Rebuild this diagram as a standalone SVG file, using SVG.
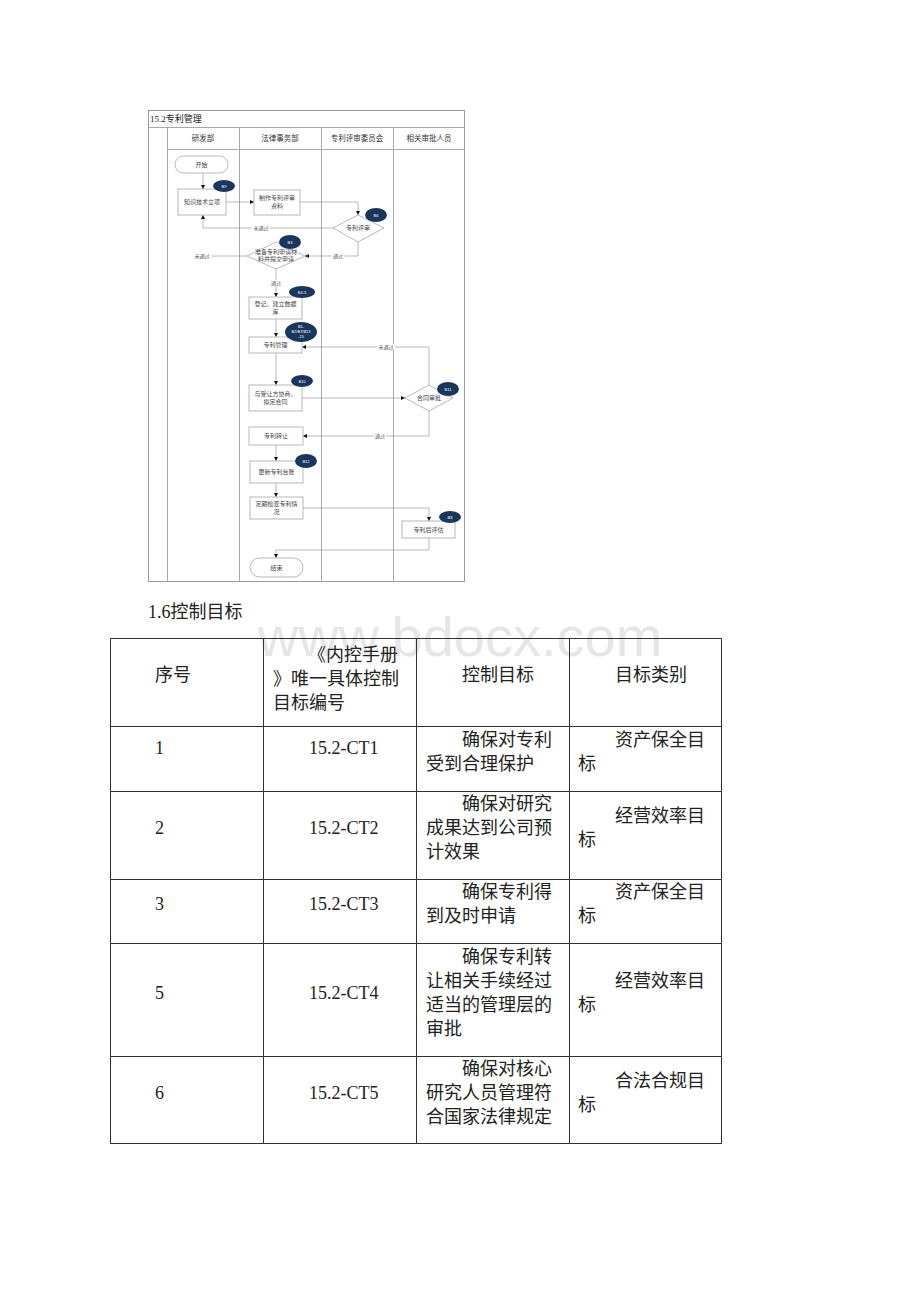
<svg xmlns="http://www.w3.org/2000/svg" width="920" height="1302" viewBox="0 0 920 1302">
<defs>
<marker id="ah" viewBox="0 0 6 6" refX="6" refY="3" markerWidth="4" markerHeight="4" orient="auto" markerUnits="userSpaceOnUse"><path d="M0,0 L6,3 L0,6 z" fill="#111"/></marker>
<style>
.frame{fill:none;stroke:#9a9a9a;stroke-width:1}
.lane{stroke:#a8a8a8;stroke-width:1}
.box{fill:#fff;stroke:#a6a6a6;stroke-width:0.8}
.con{fill:none;stroke:#8a8a8a;stroke-width:0.6}
.badge{fill:#1b365d}
.bt{font-family:"Liberation Sans",sans-serif;font-size:4px;fill:#fff;text-anchor:middle}
.nt{font-family:"Liberation Serif","Noto Sans CJK SC",serif;font-size:6px;fill:#444;text-anchor:middle}
.lt{font-family:"Liberation Serif","Noto Sans CJK SC",serif;font-size:5px;fill:#555;text-anchor:middle}
.ht{font-family:"Liberation Serif","Noto Sans CJK SC",serif;font-size:7.5px;fill:#333;text-anchor:middle}
.tt{font-family:"Liberation Serif","Noto Sans CJK SC",serif;font-size:18px;fill:#222}
.tc{text-anchor:middle}
.grid{stroke:#333;stroke-width:1;fill:none}
</style>
</defs>
<rect width="920" height="1302" fill="#fff"/>

<!-- watermark -->
<text x="460" y="656" font-family="'Liberation Sans',sans-serif" font-size="56" fill="#e6e6e6" text-anchor="middle">www.bdocx.com</text>

<!-- flowchart frame -->
<g id="frame">
<rect class="frame" x="148.5" y="110.5" width="316" height="471"/>
<line class="lane" x1="148" y1="127.5" x2="465" y2="127.5"/>
<line class="lane" x1="167" y1="149.5" x2="465" y2="149.5"/>
<line class="lane" x1="167.5" y1="127" x2="167.5" y2="582"/>
<line class="lane" x1="239.5" y1="127" x2="239.5" y2="582"/>
<line class="lane" x1="321.5" y1="127" x2="321.5" y2="582"/>
<line class="lane" x1="393.5" y1="127" x2="393.5" y2="582"/>
<text x="150" y="122" font-family="'Liberation Serif','Noto Sans CJK SC',serif" font-size="9" fill="#222">15.2专利管理</text>
<text class="ht" x="203" y="141">研发部</text>
<text class="ht" x="280" y="141">法律事务部</text>
<text class="ht" x="357" y="141">专利评审委员会</text>
<text class="ht" x="429" y="141">相关审批人员</text>
</g>

<!-- connectors -->
<g id="connectors">
<path class="con" d="M203,173 V189" marker-end="url(#ah)"/>
<path class="con" d="M226,202 H254" marker-end="url(#ah)"/>
<path class="con" d="M300,202 H358 V215" marker-end="url(#ah)"/>
<path class="con" d="M333,228 H203 V215" marker-end="url(#ah)"/>
<path class="con" d="M358,242 V256 H305" marker-end="url(#ah)"/>
<path class="con" d="M247,256 H212"/>
<path class="con" d="M276,269 V297" marker-end="url(#ah)"/>
<path class="con" d="M276,319 V337" marker-end="url(#ah)"/>
<path class="con" d="M429,385 V347 H302" marker-end="url(#ah)"/>
<path class="con" d="M276,353 V385" marker-end="url(#ah)"/>
<path class="con" d="M302,398 H405" marker-end="url(#ah)"/>
<path class="con" d="M429,411 V436 H303" marker-end="url(#ah)"/>
<path class="con" d="M276,445 V461" marker-end="url(#ah)"/>
<path class="con" d="M276,483 V497" marker-end="url(#ah)"/>
<path class="con" d="M303,508 H429 V521" marker-end="url(#ah)"/>
<path class="con" d="M429,538 V550 H276 V558" marker-end="url(#ah)"/>
<rect x="252" y="225" width="18" height="6" fill="#fff"/>
<text class="lt" x="261" y="230">未通过</text>
<text class="lt" x="202" y="258">未通过</text>
<rect x="332" y="253" width="12" height="6" fill="#fff"/>
<text class="lt" x="338" y="258">通过</text>
<rect x="270" y="280" width="12" height="6" fill="#fff"/>
<text class="lt" x="276" y="285">通过</text>
<rect x="377" y="344" width="18" height="6" fill="#fff"/>
<text class="lt" x="386" y="349">未通过</text>
<rect x="374" y="433" width="12" height="6" fill="#fff"/>
<text class="lt" x="380" y="438">通过</text>
</g>

<!-- nodes -->
<g id="n-start"><rect class="box" x="175" y="156" width="53" height="17" rx="8.5"/><text class="nt" x="201.5" y="166.5">开始</text></g>
<g id="n-lixiang"><rect class="box" x="178" y="189" width="48" height="26"/><text class="nt" x="202" y="204">知识技术立项</text>
<ellipse class="badge" cx="224" cy="186" rx="11" ry="6"/><text class="bt" x="224" y="187.5">B9</text></g>
<g id="n-zhizuo"><rect class="box" x="254" y="190" width="46" height="25"/><text class="nt" x="277" y="200">制作专利评审</text><text class="nt" x="277" y="208">资料</text></g>
<g id="n-pingshen"><polygon class="box" points="358,215 384,228 358,242 333,228"/><text class="nt" x="358" y="230">专利评审</text>
<ellipse class="badge" cx="376" cy="215" rx="11" ry="7"/><text class="bt" x="376" y="216.5">B6</text></g>
<g id="n-zhunbei"><polygon class="box" points="276,242 305,256 276,269 247,256"/><text class="nt" x="276" y="254">准备专利申请材</text><text class="nt" x="276" y="261">料并提交申请</text>
<ellipse class="badge" cx="290" cy="242" rx="11" ry="7"/><text class="bt" x="290" y="243.5">B3</text></g>
<g id="n-dengji"><rect class="box" x="249" y="297" width="53" height="22"/><text class="nt" x="275.5" y="306">登记、建立数据</text><text class="nt" x="275.5" y="314">库</text>
<ellipse class="badge" cx="302" cy="292" rx="13" ry="6"/><text class="bt" x="302" y="293.5">B4-5</text></g>
<g id="n-guanli"><rect class="box" x="249" y="337" width="53" height="16"/><text class="nt" x="275.5" y="347">专利管理</text>
<ellipse class="badge" cx="301" cy="332" rx="16" ry="10"/><text class="bt" x="301" y="328">B1-</text><text class="bt" x="301" y="333">B2/B7/B13</text><text class="bt" x="301" y="338">-15</text></g>
<g id="n-xieshang"><rect class="box" x="249" y="385" width="53" height="26"/><text class="nt" x="275.5" y="396">与受让方协商，</text><text class="nt" x="275.5" y="404">拟定合同</text>
<ellipse class="badge" cx="302" cy="381" rx="11" ry="6"/><text class="bt" x="302" y="382.5">B10</text></g>
<g id="n-hetong"><polygon class="box" points="429,385 453,398 429,411 405,398"/><text class="nt" x="429" y="400">合同审批</text>
<ellipse class="badge" cx="448" cy="389" rx="11" ry="7"/><text class="bt" x="448" y="390.5">B11</text></g>
<g id="n-zhuanrang"><rect class="box" x="249" y="427" width="54" height="18"/><text class="nt" x="276" y="438">专利转让</text></g>
<g id="n-gengxin"><rect class="box" x="250" y="461" width="53" height="22"/><text class="nt" x="276.5" y="474">更新专利台账</text>
<ellipse class="badge" cx="306" cy="461" rx="11" ry="7"/><text class="bt" x="306" y="462.5">B12</text></g>
<g id="n-jiancha"><rect class="box" x="250" y="497" width="53" height="22"/><text class="nt" x="276.5" y="506">定期检查专利情</text><text class="nt" x="276.5" y="514">况</text></g>
<g id="n-pinggu"><rect class="box" x="402" y="521" width="53" height="17"/><text class="nt" x="428.5" y="531.5">专利后评估</text>
<ellipse class="badge" cx="450" cy="517" rx="11" ry="6"/><text class="bt" x="450" y="518.5">B8</text></g>
<g id="n-end"><rect class="box" x="250" y="558" width="53" height="19" rx="9.5"/><text class="nt" x="276.5" y="569.5">结束</text></g>

<!-- section heading -->
<text class="tt" x="148" y="618">1.6控制目标</text>

<!-- table -->
<g id="table">
<rect class="grid" x="110.5" y="638.5" width="611" height="505"/>
<line class="grid" x1="263.5" y1="638" x2="263.5" y2="1144"/>
<line class="grid" x1="416.5" y1="638" x2="416.5" y2="1144"/>
<line class="grid" x1="569.5" y1="638" x2="569.5" y2="1144"/>
<line class="grid" x1="110" y1="726.5" x2="722" y2="726.5"/>
<line class="grid" x1="110" y1="791.5" x2="722" y2="791.5"/>
<line class="grid" x1="110" y1="879.5" x2="722" y2="879.5"/>
<line class="grid" x1="110" y1="943.5" x2="722" y2="943.5"/>
<line class="grid" x1="110" y1="1056.5" x2="722" y2="1056.5"/>

<text class="tt" x="155" y="681">序号</text>
<text class="tt" x="308" y="661">《内控手册</text>
<text class="tt" x="273" y="685">》唯一具体控制</text>
<text class="tt" x="273" y="709">目标编号</text>
<text class="tt" x="462" y="681">控制目标</text>
<text class="tt" x="615" y="681">目标类别</text>

<text class="tt" x="155" y="754">1</text>
<text class="tt" x="309" y="754">15.2-CT1</text>
<text class="tt" x="462" y="746">确保对专利</text>
<text class="tt" x="426" y="770">受到合理保护</text>
<text class="tt" x="615" y="746">资产保全目</text>
<text class="tt" x="578" y="770">标</text>

<text class="tt" x="155" y="834">2</text>
<text class="tt" x="309" y="834">15.2-CT2</text>
<text class="tt" x="462" y="810">确保对研究</text>
<text class="tt" x="426" y="834">成果达到公司预</text>
<text class="tt" x="426" y="858">计效果</text>
<text class="tt" x="615" y="822">经营效率目</text>
<text class="tt" x="578" y="846">标</text>

<text class="tt" x="155" y="910">3</text>
<text class="tt" x="309" y="910">15.2-CT3</text>
<text class="tt" x="462" y="898">确保专利得</text>
<text class="tt" x="426" y="922">到及时申请</text>
<text class="tt" x="615" y="898">资产保全目</text>
<text class="tt" x="578" y="922">标</text>

<text class="tt" x="155" y="999">5</text>
<text class="tt" x="309" y="999">15.2-CT4</text>
<text class="tt" x="462" y="963">确保专利转</text>
<text class="tt" x="426" y="987">让相关手续经过</text>
<text class="tt" x="426" y="1011">适当的管理层的</text>
<text class="tt" x="426" y="1035">审批</text>
<text class="tt" x="615" y="987">经营效率目</text>
<text class="tt" x="578" y="1011">标</text>

<text class="tt" x="155" y="1099">6</text>
<text class="tt" x="309" y="1099">15.2-CT5</text>
<text class="tt" x="462" y="1075">确保对核心</text>
<text class="tt" x="426" y="1099">研究人员管理符</text>
<text class="tt" x="426" y="1123">合国家法律规定</text>
<text class="tt" x="615" y="1087">合法合规目</text>
<text class="tt" x="578" y="1111">标</text>
</g>
</svg>
